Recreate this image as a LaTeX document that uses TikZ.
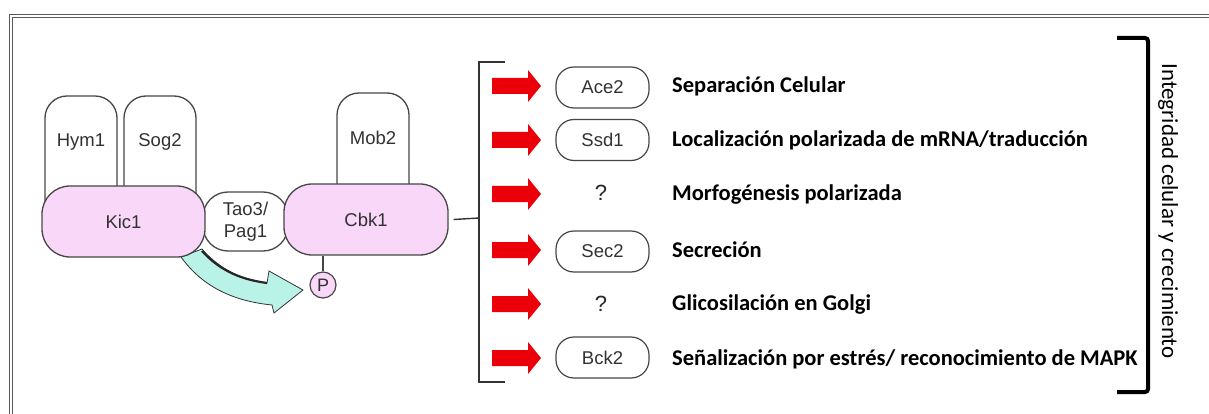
\documentclass[tikz,border=0pt]{standalone}
\usepackage{fontspec}
\setmainfont{Carlito}
\newfontfamily\arialf{Liberation Sans}
\definecolor{pinkfill}{RGB}{249,215,248}
\definecolor{tealfill}{RGB}{185,242,230}
\definecolor{arrred}{RGB}{235,0,10}
\definecolor{protline}{RGB}{70,70,70}
\definecolor{prottext}{RGB}{50,50,50}
\begin{document}
\begin{tikzpicture}[x=1pt,y=-1pt,
  ptext/.style={font=\arialf\fontsize{18.5}{21}\selectfont, text=prottext},
  topbox/.style={draw=protline, line width=1.3pt, fill=white, rounded corners=22},
  kinase/.style={draw=protline, line width=1.3pt, fill=pinkfill, rounded corners=28, ptext, inner sep=0pt},
  target/.style={draw=protline, line width=1.2pt, fill=white, rounded corners=18, ptext,
     minimum width=93pt, minimum height=41pt, inner sep=0pt},
  qmark/.style={font=\arialf\fontsize{22}{24}\selectfont, text=black!85},
  lab/.style={font=\bfseries\fontsize{22.5}{26}\selectfont, anchor=west, inner sep=0pt},
  redarr/.style={fill=arrred, draw=none},
  bracket/.style={draw=black!80, line width=1.4pt},
  frameline/.style={draw=black!65, line width=0.9pt}
]
\useasboundingbox (0,0) rectangle (1209,414);
% frame (double line)
\draw[frameline] (9,414) -- (9,14) -- (1209,14);
\draw[frameline] (12,414) -- (12,17) -- (1209,17);

% top subunits
\draw[topbox] (45,235) -- (45,96) -- (117,96) -- (117,235);
\node[ptext] (hym1) at (81,142) {Hym1};
\draw[topbox] (124,235) -- (124,96) -- (196,96) -- (196,235);
\node[ptext] (sog2) at (160,142) {Sog2};
\draw[topbox] (337,235) -- (337,93) -- (409,93) -- (409,235);
\node[ptext] (mob2) at (373,138) {Mob2};

% teal curved arrow
\draw[fill=tealfill, draw=black!80, line width=0.8pt]
  (202,249) .. controls (222,272) and (245,280) .. (267,283)
  -- (269,271) -- (303,290) -- (274,313) -- (272,305)
  .. controls (232,301) and (202,286) .. (181,257) -- cycle;
\draw[black!85, line width=2.2pt] (202,251) .. controls (222,273) and (245,280) .. (267,283);

% kinases
\node[draw=protline, line width=1.3pt, fill=white, rounded corners=25, ptext, align=center,
      minimum width=85pt, minimum height=59pt, inner sep=0pt, font=\arialf\fontsize{18.5}{22}\selectfont]
  (tao3) at (245.5,221.5) {Tao3/\\Pag1};
\node[kinase, minimum width=163pt, minimum height=71pt] (kic1) at (123.5,221.5) {Kic1};
\node[kinase, minimum width=164pt, minimum height=71pt] (cbk1) at (366,219.5) {Cbk1};

% phosphate
\node[circle, draw=protline, line width=1.2pt, fill=pinkfill, minimum size=26pt, inner sep=0pt,
      font=\arialf\fontsize{18}{20}\selectfont, text=prottext] (p) at (323,285) {P};
\draw[protline, line width=1.2pt] (cbk1.south -| p) -- (p.north);

% left bracket
\coordinate (lbt) at (505,62);
\coordinate (lbb) at (505,382);
\coordinate (lbm) at (479,218);
\draw[bracket] (lbt) -- (479,62) -- (479,382) -- (lbb);
\draw[bracket] ([xshift=5pt]cbk1.east) -- (lbm);

% rows
\foreach \y in {86,140,194,250,304,358}{
  \path[redarr] (492,\y-8) -- (528,\y-8) -- (528,\y-16) -- (541,\y) -- (528,\y+16) -- (528,\y+8) -- (492,\y+8) -- cycle;
}
\node[target] (ace2) at (602.5,87.5) {Ace2};
\node[target] (ssd1) at (602.5,140) {Ssd1};
\node[qmark] (q1) at (601,193) {?};
\node[target] (sec2) at (602.5,251.5) {Sec2};
\node[qmark] (q2) at (601,304) {?};
\node[target] (bck2) at (602.5,357.5) {Bck2};

\node[lab] (l1) at (672,86) {Separación Celular};
\node[lab] (l2) at (672,140) {Localización polarizada de mRNA/traducción};
\node[lab] (l3) at (672,195) {Morfogénesis polarizada};
\node[lab] (l4) at (672,250) {Secreción};
\node[lab] (l5) at (672,305) {Glicosilación en Golgi};
\node[lab] (l6) at (672,359) {Señalización por estrés/ reconocimiento de MAPK};

% right bracket
\draw[black, line width=4pt, rounded corners=3pt] (1117,38) -- (1148,38) -- (1148,392) -- (1117,392);
\node[rotate=-90, font=\fontsize{23}{26}\selectfont] (integ) at (1168,211) {Integridad celular y crecimiento};
\end{tikzpicture}
\end{document}
